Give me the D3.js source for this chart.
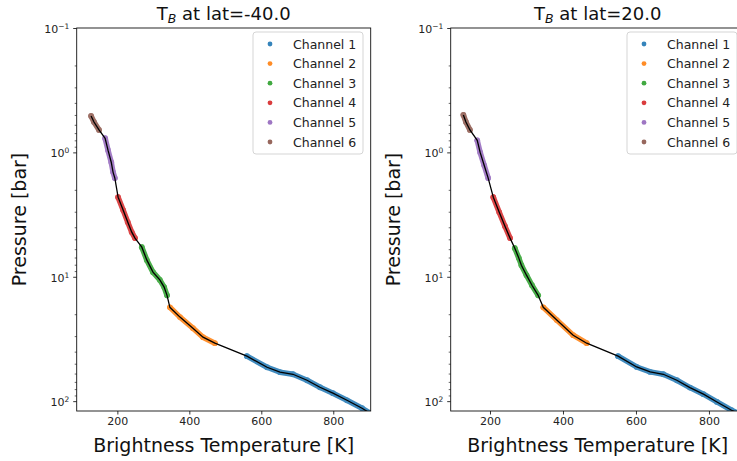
<!DOCTYPE html>
<html>
<head>
<meta charset="utf-8">
<script src="https://cdn.jsdelivr.net/npm/d3@7"></script>
<style>
  html, body { margin: 0; padding: 0; background: #fff; }
  svg { display: block; font-family: "DejaVu Sans", sans-serif; }
</style>
</head>
<body>
<svg id="chart" width="737" height="461"></svg>
<script>
// ---------------- DATA ----------------
const channelNames = ["Channel 1", "Channel 2", "Channel 3", "Channel 4", "Channel 5", "Channel 6"];
const channelColors = ["#1f77b4", "#ff7f0e", "#2ca02c", "#d62728", "#9467bd", "#8c564b"];
const latitudes = [-40.0, 20.0];
const xTicks = [200, 400, 600, 800];
const yMajorTicks = [0.1, 1, 10, 100];
const yTickExponents = ["\u22121", "0", "1", "2"];

// lat = -40.0 : brightness temperature [K] and pressure [bar] per channel
const s40_ch1T = [560, 616, 652, 688, 727, 763, 799, 838, 880, 902];
const s40_ch1P = [43.5, 53.4, 58.5, 60.8, 67.9, 77.3, 86.3, 98.4, 114, 125];
const s40_ch2T = [346, 374, 410, 438, 471];
const s40_ch2P = [17.6, 21.1, 25.9, 30.6, 34.2];
const s40_ch3T = [268, 282, 299, 318, 330, 338];
const s40_ch3P = [5.78, 7.35, 9.18, 10.6, 12.1, 14.1];
const s40_ch4T = [202, 216, 229, 240, 249];
const s40_ch4P = [2.29, 2.91, 3.64, 4.38, 4.89];
const s40_ch5T = [166, 174, 183, 188, 193];
const s40_ch5P = [0.77, 0.96, 1.20, 1.44, 1.61];
const s40_ch6T = [127, 135, 149];
const s40_ch6P = [0.51, 0.57, 0.66];

// lat = 20.0
const n20_ch1T = [551, 602, 639, 675, 712, 748, 785, 822, 862, 885];
const n20_ch1P = [43.5, 53.1, 58.2, 60.8, 67.9, 77.8, 87.9, 101.5, 118.3, 127];
const n20_ch2T = [346, 383, 428, 465];
const n20_ch2P = [17.6, 22.3, 29.5, 34.2];
const n20_ch3T = [268, 279, 286, 300, 315, 332];
const n20_ch3P = [5.89, 7.08, 8.07, 9.71, 11.7, 14.1];
const n20_ch4T = [209, 225, 241, 255];
const n20_ch4P = [2.29, 3.02, 3.92, 4.89];
const n20_ch5T = [165, 173, 184, 195];
const n20_ch5P = [0.80, 1.00, 1.27, 1.61];
const n20_ch6T = [127, 134, 145];
const n20_ch6P = [0.50, 0.57, 0.66];

// ---------------- BUILD ----------------
const zip = (T, P) => T.map((t, i) => ({ T: t, P: P[i] }));
const panelsData = [
  [zip(s40_ch1T, s40_ch1P), zip(s40_ch2T, s40_ch2P), zip(s40_ch3T, s40_ch3P),
   zip(s40_ch4T, s40_ch4P), zip(s40_ch5T, s40_ch5P), zip(s40_ch6T, s40_ch6P)],
  [zip(n20_ch1T, n20_ch1P), zip(n20_ch2T, n20_ch2P), zip(n20_ch3T, n20_ch3P),
   zip(n20_ch4T, n20_ch4P), zip(n20_ch5T, n20_ch5P), zip(n20_ch6T, n20_ch6P)]
];

const panels = [
  { x0: 76.7, x1: 370.7, xDomain: [87, 904] },
  { x0: 450.7, x1: 744.7, xDomain: [92.3, 898] }
];
const y0 = 28, y1 = 411;

const svg = d3.select("#chart");

panels.forEach((pn, pi) => {
  const x = d3.scaleLinear().domain(pn.xDomain).range([pn.x0, pn.x1]);
  const y = d3.scaleLog().domain([0.1, 120]).range([y0, y1]);
  const g = svg.append("g");

  const clipId = "clip" + pi;
  svg.append("defs").append("clipPath").attr("id", clipId)
    .append("rect").attr("x", pn.x0).attr("y", y0)
    .attr("width", pn.x1 - pn.x0).attr("height", y1 - y0);

  const plot = g.append("g").attr("clip-path", `url(#${clipId})`);
  const chans = panelsData[pi];
  const line = d3.line().x(d => x(d.T)).y(d => y(d.P));

  // scatter bands per channel
  chans.forEach((pts, ci) => {
    const cg = plot.append("g").attr("opacity", 0.85);
    cg.append("path").datum(pts).attr("d", line)
      .attr("fill", "none").attr("stroke", channelColors[ci])
      .attr("stroke-width", 5.5).attr("stroke-linecap", "round").attr("stroke-linejoin", "round");
    cg.selectAll("circle").data(pts).join("circle")
      .attr("cx", d => x(d.T)).attr("cy", d => y(d.P)).attr("r", 2.9)
      .attr("fill", channelColors[ci]);
  });

  // black profile line through all channels, ordered by pressure
  const all = chans.flat().slice().sort((a, b) => a.P - b.P);
  plot.append("path").datum(all).attr("d", line)
    .attr("fill", "none").attr("stroke", "#000").attr("stroke-width", 1.3);

  // axes
  const xAxis = g.append("g").attr("transform", `translate(0,${y1})`)
    .call(d3.axisBottom(x).tickValues(xTicks).tickSize(3.5).tickPadding(3).tickFormat(d3.format("d")));
  xAxis.select(".domain").remove();
  xAxis.selectAll("text").attr("font-size", 11).attr("fill", "#222").attr("font-family", "DejaVu Sans");
  xAxis.selectAll("line").attr("stroke-width", 0.8);

  const minor = [];
  [0.1, 1, 10].forEach(b => { for (let k = 2; k <= 9; k++) if (b * k < 120) minor.push(b * k); });
  const yMinor = g.append("g").attr("transform", `translate(${pn.x0},0)`)
    .call(d3.axisLeft(y).tickValues(minor).tickSize(2).tickFormat(""));
  yMinor.select(".domain").remove();
  yMinor.selectAll("line").attr("stroke-width", 0.6);

  const yAxis = g.append("g").attr("transform", `translate(${pn.x0},0)`)
    .call(d3.axisLeft(y).tickValues(yMajorTicks).tickSize(3.5).tickPadding(4).tickFormat(""));
  yAxis.select(".domain").remove();
  yAxis.selectAll("line").attr("stroke-width", 0.8);
  yAxis.selectAll(".tick").each(function (d, i) {
    const t = d3.select(this).select("text")
      .attr("font-size", 11).attr("fill", "#222").attr("font-family", "DejaVu Sans")
      .attr("dy", "0.4em");
    t.text("10");
    t.append("tspan").attr("dy", "-0.55em").attr("font-size", 7.5).text(yTickExponents[i]);
  });

  // spines
  g.append("rect").attr("x", pn.x0).attr("y", y0)
    .attr("width", pn.x1 - pn.x0).attr("height", y1 - y0)
    .attr("fill", "none").attr("stroke", "#111").attr("stroke-width", 0.9);

  // title
  const cx = (pn.x0 + pn.x1) / 2;
  const title = g.append("text").attr("x", cx).attr("y", 20)
    .attr("text-anchor", "middle").attr("font-size", 18).attr("fill", "#111");
  title.append("tspan").text("T");
  title.append("tspan").attr("font-style", "italic").attr("font-size", 12.5).attr("dy", 3).text("B");
  title.append("tspan").attr("dy", -3).text(" at lat=" + latitudes[pi].toFixed(1));

  // axis labels
  g.append("text").attr("x", cx).attr("y", 452).attr("text-anchor", "middle")
    .attr("font-size", 19).attr("fill", "#111").text("Brightness Temperature [K]");
  g.append("text").attr("transform", `translate(${pn.x0 - 51},${(y0 + y1) / 2}) rotate(-90)`)
    .attr("text-anchor", "middle").attr("font-size", 19).attr("fill", "#111").text("Pressure [bar]");

  // legend
  const lw = 110, lh = 122;
  const lx = pn.x1 - 7.7 - lw, ly = 32;
  const lg = g.append("g");
  lg.append("rect").attr("x", lx).attr("y", ly).attr("width", lw).attr("height", lh)
    .attr("rx", 3).attr("fill", "#fff").attr("fill-opacity", 0.8)
    .attr("stroke", "#d0d0d0").attr("stroke-width", 0.9);
  channelNames.forEach((nm, ci) => {
    const ry = ly + 12 + ci * 19.6;
    lg.append("circle").attr("cx", lx + 17).attr("cy", ry).attr("r", 2.4)
      .attr("fill", channelColors[ci]).attr("opacity", 0.9);
    lg.append("text").attr("x", lx + 40).attr("y", ry).attr("dy", "0.36em")
      .attr("font-size", 12.5).attr("fill", "#222").text(nm);
  });
});
</script>
</body>
</html>
